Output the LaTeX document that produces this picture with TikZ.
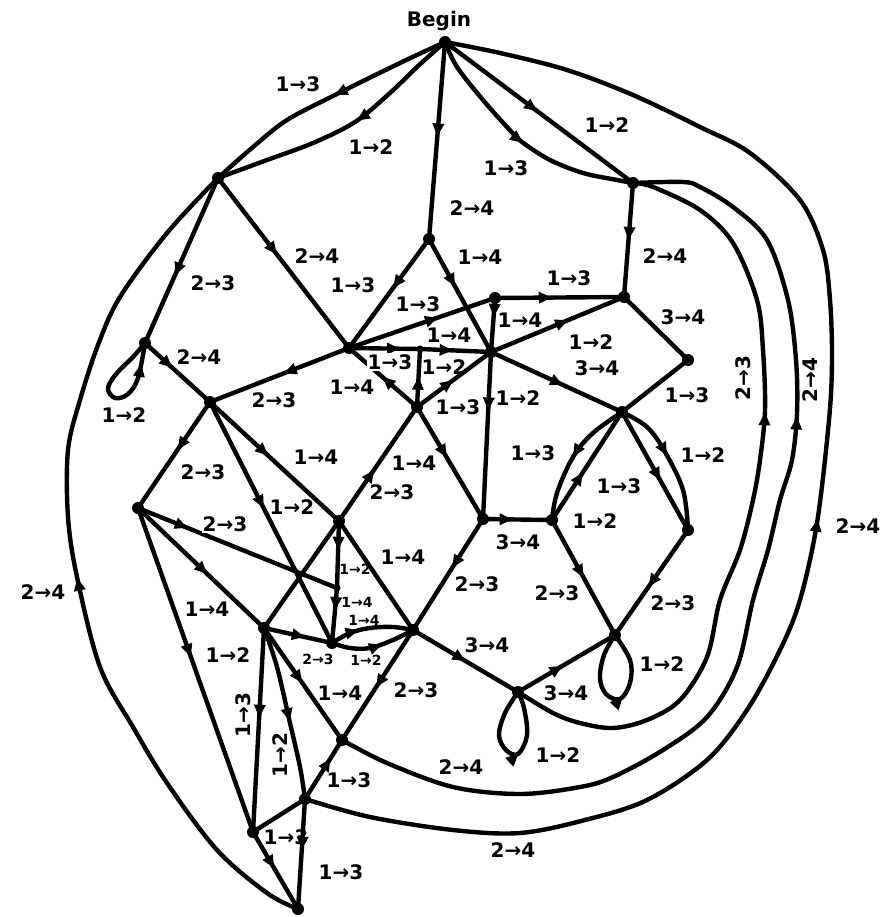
\documentclass[tikz,border=0pt]{standalone}
\usepackage{fontspec}
\setmainfont{DejaVu Sans}
\usetikzlibrary{arrows.meta,decorations.markings}
\tikzset{
 dot/.style={circle,fill=black,inner sep=0pt,minimum size=12pt},
 sdot/.style={circle,fill=black,inner sep=0pt,minimum size=7pt},
 lab/.style={font=\fontsize{20}{20}\selectfont\bfseries,inner sep=1pt},
 slab/.style={font=\fontsize{14}{14}\selectfont\bfseries,inner sep=0.5pt},
 wlab/.style={lab,fill=white},
 ln/.style={draw=black,line width=4.4pt,line cap=round,line join=round},
 arr/.style={postaction={decorate,decoration={markings,mark=at position #1 with {\arrow{Triangle[length=13pt,width=11pt]}}}}},
 arr/.default=0.5,
}
\begin{document}
\begin{tikzpicture}[x=1pt,y=-1pt]
\fill[white] (0,0) rectangle (895,917);
\useasboundingbox (0,0) rectangle (895,917);
% nodes
\node[dot] (B) at (445,42) {};
\node[dot] (A) at (218,178) {};
\node[dot] (C) at (633,183) {};
\node[dot] (D) at (429,239) {};
\node[dot] (E) at (624,297) {};
\node[dot] (F) at (495,298) {};
\node[dot] (G) at (491,352) {};
\node[dot] (H) at (349,348) {};
\node[sdot] (I) at (420,349) {};
\node[dot] (J) at (417,407) {};
\node[dot] (K) at (145,343) {};
\node[dot] (L) at (210,402) {};
\node[dot] (M) at (138,508) {};
\node[dot] (N) at (339,521) {};
\node[sdot] (R) at (337,588) {};
\node[dot] (Q) at (332,643) {};
\node[dot] (S) at (264,628) {};
\node[dot] (T) at (413,630) {};
\node[dot] (U) at (483,519) {};
\node[dot] (V) at (552,520) {};
\node[dot] (W) at (622,412) {};
\node[dot] (X) at (688,360) {};
\node[dot] (Y) at (688,530) {};
\node[dot] (Z) at (615,635) {};
\node[dot] (AA) at (518,692) {};
\node[dot] (BB) at (342,740) {};
\node[dot] (CC) at (305,799) {};
\node[dot] (DD) at (253,832) {};
\node[dot] (EE) at (298,909) {};
% curved edges
\draw[ln,arr=0.46] plot[smooth,tension=0.55] coordinates {(B.center) (400,63) (335,95) (287,120) (253,147) (A.center)};
\draw[ln,arr=0.44] plot[smooth,tension=0.55] coordinates {(B.center) (417,67) (390,93) (355,122) (313,143) (267,160) (A.center)};
\draw[ln,arr=0.52] plot[smooth,tension=0.55] coordinates {(B.center) (457,67) (483,100) (507,127) (522,142) (550,160) (583,173) (617,180) (C.center)};
\draw[ln,arr=0.48] plot[smooth,tension=0.55] coordinates {(EE.center) (267,893) (217,850) (167,783) (133,727) (100,667) (77,577) (68,517) (68,450) (80,400) (98,345) (120,297) (167,233) (A.center)};
\draw[ln,arr=0.49] plot[smooth,tension=0.55] coordinates {(CC.center) (370,817) (453,830) (520,833) (585,820) (647,800) (707,760) (747,710) (780,650) (800,600) (817,523) (829,420) (832,360) (830,300) (823,250) (800,200) (750,153) (700,127) (633,95) (567,70) (500,53) (B.center)};
\draw[ln,arr=0.68] plot[smooth,tension=0.55] coordinates {(BB.center) (387,763) (453,787) (520,794) (580,787) (613,777) (663,750) (707,717) (737,667) (753,600) (768,550) (780,500) (792,460) (797,413) (796,360) (788,300) (767,240) (733,207) (700,187) (683,182) (C.center)};
\draw[ln,arr=0.62] plot[smooth,tension=0.55] coordinates {(AA.center) (553,713) (580,723) (613,728) (647,720) (680,700) (707,657) (720,600) (740,550) (753,500) (760,460) (765,410) (763,350) (757,300) (733,243) (700,210) (653,187) (C.center)};
% loops
\draw[ln,arr=0.85] plot[smooth,tension=0.6] coordinates {(K.center) (133,357) (117,373) (108,388) (115,398) (128,394) (138,378) (K.center)};
\draw[ln,arr=0.55] plot[smooth,tension=0.6] coordinates {(Z.center) (604,655) (600,678) (606,694) (620,699) (630,683) (630,660) (Z.center)};
\draw[ln,arr=0.55] plot[smooth,tension=0.6] coordinates {(AA.center) (505,713) (499,735) (506,750) (518,754) (527,735) (524,708) (AA.center)};
% Q-T pair and other curves
\draw[ln,arr=0.35] plot[smooth,tension=0.6] coordinates {(Q.center) (350,633) (370,628) (393,627) (T.center)};
\draw[ln,arr=0.6] plot[smooth,tension=0.6] coordinates {(Q.center) (350,648) (370,648) (393,640) (T.center)};
\draw[ln,arr=0.5] plot[smooth,tension=0.6] coordinates {(W.center) (593,433) (573,457) (557,493) (V.center)};
\draw[ln,arr=0.45] plot[smooth,tension=0.6] coordinates {(W.center) (647,427) (665,452) (683,490) (Y.center)};
\draw[ln,arr=0.55] plot[smooth,tension=0.6] coordinates {(S.center) (277,667) (290,723) (300,767) (CC.center)};
% straight edges
\draw[ln,arr=0.48] (B.center) -- (D.center);
\draw[ln,arr=0.49] (B.center) -- (C.center);
\draw[ln,arr=0.59] (A.center) -- (K.center);
\draw[ln,arr=0.45] (A.center) -- (H.center);
\draw[ln,arr=0.45] (D.center) -- (H.center);
\draw[ln,arr=0.42] (D.center) -- (G.center);
\draw[ln,arr=0.5] (C.center) -- (E.center);
\draw[ln,arr=0.44] (F.center) -- (E.center);
\draw[ln,arr=0.61] (H.center) -- (F.center);
\draw[ln,arr=0.35] (F.center) -- (G.center);
\draw[ln,arr=0.72] (H.center) -- (I.center);
\draw[ln,arr=0.46] (I.center) -- (G.center);
\draw[ln,arr=0.52] (J.center) -- (I.center);
\draw[ln,arr=0.51] (J.center) -- (H.center);
\draw[ln,arr=0.49] (J.center) -- (G.center);
\draw[ln,arr=0.58] (G.center) -- (E.center);
\draw[ln,arr=0.55] (G.center) -- (W.center);
\draw[ln] (E.center) -- (X.center);
\draw[ln] (X.center) -- (W.center);
\draw[ln,arr=0.35] (G.center) -- (U.center);
\draw[ln,arr=0.45] (J.center) -- (U.center);
\draw[ln,arr=0.43] (U.center) -- (V.center);
\draw[ln,arr=0.44] (V.center) -- (W.center);
\draw[ln,arr=0.58] (W.center) -- (Y.center);
\draw[ln,arr=0.54] (Y.center) -- (Z.center);
\draw[ln,arr=0.5] (V.center) -- (Z.center);
\draw[ln,arr=0.44] (U.center) -- (T.center);
\draw[ln,arr=0.5] (T.center) -- (AA.center);
\draw[ln,arr=0.46] (AA.center) -- (Z.center);
\draw[ln,arr=0.42] (K.center) -- (L.center);
\draw[ln,arr=0.47] (H.center) -- (L.center);
\draw[ln,arr=0.45] (L.center) -- (M.center);
\draw[ln,arr=0.44] (L.center) -- (Q.center);
\draw[ln,arr=0.45] (L.center) -- (N.center);
\draw[ln,arr=0.45] (N.center) -- (J.center);
\draw[ln,arr=0.25] (M.center) -- (R.center);
\draw[ln,arr=0.55] (M.center) -- (S.center);
\draw[ln,arr=0.46] (M.center) -- (DD.center);
\draw[ln,arr=0.43] (N.center) -- (R.center);
\draw[ln,arr=0.4] (R.center) -- (Q.center);
\draw[ln] (N.center) -- (T.center);
\draw[ln] (N.center) -- (S.center);
\draw[ln,arr=0.6] (S.center) -- (Q.center);
\draw[ln,arr=0.52] (T.center) -- (BB.center);
\draw[ln,arr=0.49] (S.center) -- (BB.center);
\draw[ln,arr=0.44] (S.center) -- (DD.center);
\draw[ln,arr=0.69] (CC.center) -- (BB.center);
\draw[ln] (DD.center) -- (CC.center);
\draw[ln,arr=0.46] (CC.center) -- (EE.center);
\draw[ln,arr=0.47] (DD.center) -- (EE.center);
% labels
\node[lab] (tbeg) at (439,21) {Begin};
\node[lab] (l1) at (298,84) {1→3};
\node[lab] (l2) at (371,147) {1→2};
\node[lab] (l3) at (506,168) {1→3};
\node[lab] (l4) at (607,125) {1→2};
\node[lab] (l5) at (472,208) {2→4};
\node[lab] (l6) at (317,256) {2→4};
\node[lab] (l7) at (213,283) {2→3};
\node[lab] (l8) at (480,257) {1→4};
\node[lab] (l9) at (353,285) {1→3};
\node[lab] (l10) at (569,278) {1→3};
\node[lab] (l11) at (665,256) {2→4};
\node[lab] (l12) at (418,304) {1→3};
\node[lab] (l13) at (520,320) {1→4};
\node[lab] (l14) at (449,335) {1→4};
\node[lab] (l15) at (591,342) {1→2};
\node[lab] (l16) at (683,317) {3→4};
\node[lab] (l17) at (597,368) {3→4};
\node[lab] (l18) at (199,357) {2→4};
\node[wlab] (l19) at (390,362) {1→3};
\node[lab] (l20) at (444,367) {1→2};
\node[lab] (l21) at (352,387) {1→4};
\node[lab] (l22) at (124,415) {1→2};
\node[lab] (l23) at (274,400) {2→3};
\node[lab] (l24) at (458,407) {1→3};
\node[lab] (l25) at (518,398) {1→2};
\node[lab] (l26) at (687,395) {1→3};
\node[lab,rotate=90] (l27) at (743,378) {2→3};
\node[lab,rotate=90] (l28) at (810,380) {2→4};
\node[lab] (l29) at (533,453) {1→3};
\node[lab] (l30) at (619,486) {1→3};
\node[lab] (l31) at (703,455) {1→2};
\node[lab] (l32) at (316,457) {1→4};
\node[lab] (l33) at (414,463) {1→4};
\node[lab] (l34) at (203,472) {2→3};
\node[lab] (l35) at (392,492) {2→3};
\node[lab] (l36) at (292,507) {1→2};
\node[wlab] (l37) at (225,524) {2→3};
\node[lab] (l38) at (595,521) {1→2};
\node[lab] (l39) at (518,542) {3→4};
\node[lab] (l40) at (858,526) {2→4};
\node[lab] (l41) at (43,592) {2→4};
\node[lab] (l42) at (403,557) {1→4};
\node[slab] (l43) at (355,569) {1→2};
\node[slab] (l44) at (357,602) {1→4};
\node[slab] (l45) at (364,620) {1→4};
\node[lab] (l46) at (207,609) {1→4};
\node[lab] (l47) at (477,584) {2→3};
\node[lab] (l48) at (557,593) {2→3};
\node[lab] (l49) at (673,603) {2→3};
\node[lab] (l50) at (228,655) {1→2};
\node[slab] (l51) at (318,659) {2→3};
\node[slab] (l52) at (366,660) {1→2};
\node[lab] (l53) at (487,645) {3→4};
\node[lab] (l54) at (340,693) {1→4};
\node[lab] (l55) at (416,690) {2→3};
\node[lab] (l56) at (566,693) {3→4};
\node[lab] (l57) at (662,664) {1→2};
\node[lab,rotate=90] (l58) at (243,715) {1→3};
\node[lab,rotate=90] (l59) at (280,755) {1→2};
\node[lab] (l60) at (558,755) {1→2};
\node[lab] (l61) at (461,767) {2→4};
\node[lab] (l62) at (349,780) {1→3};
\node[lab] (l63) at (286,837) {1→3};
\node[lab] (l64) at (513,850) {2→4};
\node[lab] (l65) at (341,872) {1→3};
\end{tikzpicture}
\end{document}
